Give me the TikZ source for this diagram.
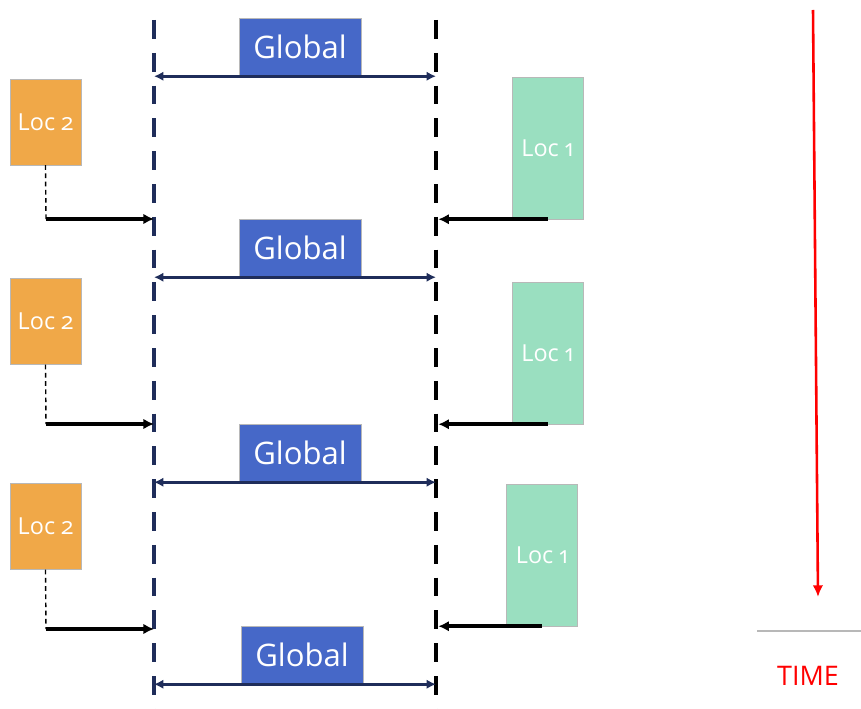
\documentclass[tikz,border=0pt]{standalone}
\usepackage{fontspec}
\setmainfont{Open Sans}[Numbers=OldStyle]
\usetikzlibrary{arrows.meta}
\definecolor{globalblue}{HTML}{4668C8}
\definecolor{locorange}{HTML}{F0A848}
\definecolor{locgreen}{HTML}{9ADFC0}
\definecolor{navy}{HTML}{1F2D5A}
\definecolor{boxgray}{HTML}{B8B8B8}
\begin{document}
\begin{tikzpicture}[x=0.03cm,y=-0.03cm,
    globalbox/.style={fill=globalblue,draw=boxgray,line width=0.4pt,text=white,inner sep=0pt,
        minimum width=3.66cm,minimum height=1.74cm,font=\fontsize{26.5}{28}\selectfont},
    loctwo/.style={fill=locorange,draw=boxgray,line width=0.4pt,text=white,inner sep=0pt,
        minimum width=2.13cm,minimum height=2.58cm,font=\fontsize{20}{22}\selectfont},
    locone/.style={fill=locgreen,draw=boxgray,line width=0.4pt,text=white,inner sep=0pt,
        minimum width=2.13cm,minimum height=4.26cm,font=\fontsize{20}{22}\selectfont},
    timeline/.style={line width=4.2pt,dash pattern=on 16pt off 12pt},
    sync/.style={navy,line width=2.8pt,{Latex[length=8pt,width=8pt]}-{Latex[length=8pt,width=8pt]}},
    push/.style={black,line width=3pt,-{Latex[length=9pt,width=9pt]}},
    wait/.style={black,line width=1.2pt,dash pattern=on 4pt off 3pt}]

    \useasboundingbox (0,0) rectangle (861,709);

    \coordinate (ltop) at (154,20);
    \coordinate (lbot) at (154,709);
    \coordinate (rtop) at (436,20);
    \coordinate (rbot) at (436,709);
    \draw[timeline,navy] (ltop) to (lbot);
    \draw[timeline,black] (rtop) to (rbot);

    \node[globalbox] (ga) at (300,47) {Global};
    \node[globalbox] (gb) at (300,248) {Global};
    \node[globalbox] (gc) at (300,453) {Global};
    \node[globalbox] (gd) at (302,655) {Global};
        \draw[sync] (ga.south -| ltop) to (ga.south -| rtop);
        \draw[sync] (gb.south -| ltop) to (gb.south -| rtop);
        \draw[sync] (gc.south -| ltop) to (gc.south -| rtop);
        \draw[sync] (gd.south -| ltop) to (gd.south -| rtop);

    \node[loctwo] (la) at (45.5,122) {Loc 2};
    \node[loctwo] (lb) at (45.5,321.5) {Loc 2};
    \node[loctwo] (lc) at (45.5,526.5) {Loc 2};
        \coordinate (ta) at (46,219);
        \coordinate (tb) at (46,424);
        \coordinate (tc) at (46,629);
        \draw[wait] (la.south) to (ta);
        \draw[wait] (lb.south) to (tb);
        \draw[wait] (lc.south) to (tc);
        \draw[push] (ta) to (ta -| ltop);
        \draw[push] (tb) to (tb -| ltop);
        \draw[push] (tc) to (tc -| ltop);

    \node[locone] (ra) at (547.5,148) {Loc 1};
    \node[locone] (rb) at (547.5,353) {Loc 1};
    \node[locone] (rc) at (542,555) {Loc 1};
        \draw[push] (ra.south) to ([xshift=2pt]ra.south -| rtop);
        \draw[push] (rb.south) to ([xshift=2pt]rb.south -| rtop);
        \draw[push] (rc.south) to ([xshift=2pt]rc.south -| rtop);

    \coordinate (tstart) at (813,10);
    \coordinate (tend) at (818,597);
    \draw[red,line width=2.2pt,-{Latex[length=10pt,width=9pt]}] (tstart) to (tend);
    \coordinate (sa) at (757,631);
    \coordinate (sb) at (861,631);
    \draw[boxgray,line width=0.9pt] (sa) to (sb);
    \node[text=red,font=\fontsize{23}{25}\selectfont] (time) at (808,676) {TIME};

\end{tikzpicture}
\end{document}
